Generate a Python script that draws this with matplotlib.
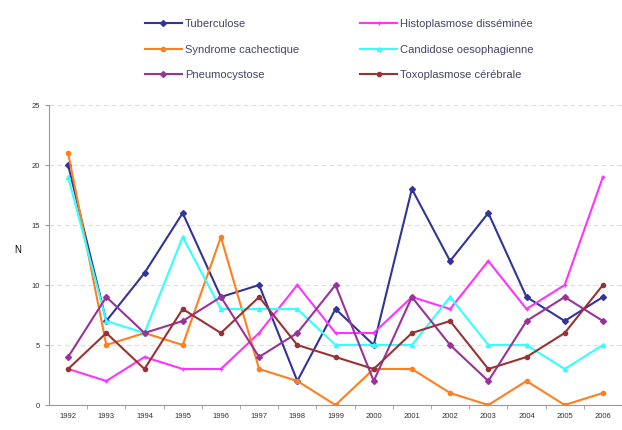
import matplotlib
matplotlib.use("Agg")
import matplotlib.pyplot as plt
from matplotlib.lines import Line2D

plt.rcParams['font.family'] = ['Liberation Sans', 'DejaVu Sans']

years = list(range(1992, 2007))

tuberculose = [20, 7, 11, 16, 9, 10, 2, 8, 5, 18, 12, 16, 9, 7, 9]
histoplasmose = [3, 2, 4, 3, 3, 6, 10, 6, 6, 9, 8, 12, 8, 10, 19]
cachectique = [21, 5, 6, 5, 14, 3, 2, 0, 3, 3, 1, 0, 2, 0, 1]
candidose = [19, 7, 6, 14, 8, 8, 8, 5, 5, 5, 9, 5, 5, 3, 5]
pneumocystose = [4, 9, 6, 7, 9, 4, 6, 10, 2, 9, 5, 2, 7, 9, 7]
toxoplasmose = [3, 6, 3, 8, 6, 9, 5, 4, 3, 6, 7, 3, 4, 6, 10]

series = [
    ("Tuberculose", tuberculose, "#333399", "D"),
    ("Histoplasmose disséminée", histoplasmose, "#FF33FF", "+"),
    ("Syndrome cachectique", cachectique, "#FF7F1E", "o"),
    ("Candidose oesophagienne", candidose, "#33FFFF", "^"),
    ("Pneumocystose", pneumocystose, "#993399", "D"),
    ("Toxoplasmose cérébrale", toxoplasmose, "#993333", "o"),
]

fig = plt.figure(figsize=(6.22, 4.3), dpi=100)
ax = fig.add_axes([49 / 622, 25 / 430, 573 / 622, 300 / 430])

handles = []
for name, vals, col, mk in series:
    ax.plot(years, vals, color=col, lw=1.5, marker=mk, ms=3, mew=1)
    handles.append(Line2D([], [], color=col, lw=1.5, marker=mk, ms=3, mew=1, label=name))

ax.set_xlim(1991.5, 2006.5)
ax.set_ylim(0, 25)
ax.set_yticks([0, 5, 10, 15, 20, 25])
ax.set_xticks(years)
ax.set_xticks([y + 0.5 for y in years[:-1]], minor=True)
ax.tick_params(axis='x', which='major', length=0, labelsize=5.5, pad=6, labelcolor='#333333')
ax.tick_params(axis='x', which='minor', length=3, color='#999999')
ax.tick_params(axis='y', labelsize=5.5, length=3, color='#999999', labelcolor='#333333')
ax.yaxis.grid(True, color='#dddddd', ls=(0, (4, 3)), lw=0.8)
ax.set_axisbelow(True)
for s in ['top', 'right']:
    ax.spines[s].set_visible(False)
ax.spines['left'].set_color('#999999')
ax.spines['bottom'].set_color('#999999')
ax.set_ylabel("N", fontsize=7, rotation=0, labelpad=10)

order = [0, 2, 4, 1, 3, 5]
fig.legend([handles[i] for i in order], [series[i][0] for i in order],
           ncol=2, loc='upper left', bbox_to_anchor=(135 / 622, 1 - 9 / 430),
           frameon=False, fontsize=8, handlelength=3.3, columnspacing=5.5,
           labelspacing=1.4, handletextpad=0.3, labelcolor='#444466')

fig.savefig("out.png", dpi=100)
